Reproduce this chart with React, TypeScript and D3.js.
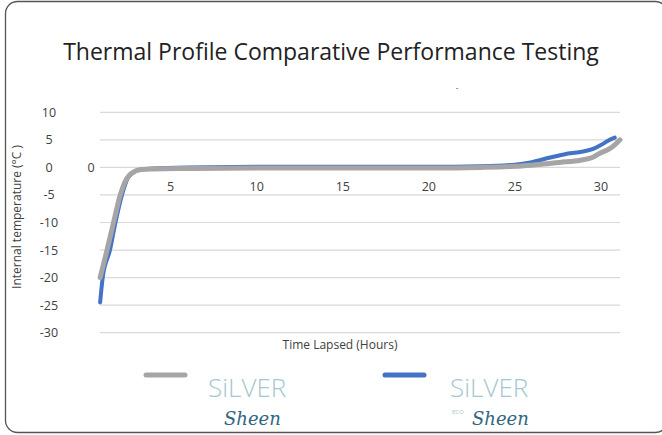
import * as d3 from 'd3';
import React, { useEffect, useRef } from 'react';

// Hours lapsed and internal temperature (°C)
const grayHours = [0.9, 1.3, 1.68, 2.07, 2.45, 2.8, 3.3, 4, 6, 10, 15, 20, 23, 25, 25.9, 27, 27.6, 28.8, 29.5, 29.96, 30.5, 30.8, 31.1];
const grayTemps = [-20, -15, -10, -5, -2, -0.9, -0.4, -0.3, -0.2, -0.1, -0.1, -0.1, 0, 0.2, 0.4, 0.7, 0.9, 1.3, 1.8, 2.6, 3.4, 4.1, 5.0];
const blueHours = [0.9, 1.05, 1.47, 1.79, 2.17, 2.5, 2.8, 3.2, 4, 6, 10, 15, 20, 23, 25, 25.9, 27.05, 27.9, 28.8, 29.5, 29.96, 30.5, 30.8];
const blueTemps = [-24.5, -20, -15, -10, -5, -2, -1, -0.4, -0.2, 0, 0.1, 0.1, 0.1, 0.2, 0.5, 0.9, 1.8, 2.4, 2.8, 3.3, 4.0, 5.0, 5.4];

const yTicks = [10, 5, 0, -5, -10, -15, -20, -25, -30];
const xTicks = [5, 10, 15, 20, 25, 30];

const W = 662;
const H = 435;
const font = "'Open Sans', 'Noto Sans', sans-serif";

export default function App() {
  const svgRef = useRef<SVGSVGElement>(null);

  useEffect(() => {
    if (!svgRef.current) return;
    const svg = d3.select(svgRef.current);
    svg.selectAll('*').remove();

    // frame
    svg.append('rect')
      .attr('x', 5.5).attr('y', 1.5)
      .attr('width', 662).attr('height', 431)
      .attr('rx', 12)
      .attr('fill', 'white')
      .attr('stroke', '#555')
      .attr('stroke-width', 1.3);

    svg.append('text')
      .attr('x', 331).attr('y', 60)
      .attr('text-anchor', 'middle')
      .style('font-family', font)
      .style('font-size', '23px')
      .style('fill', '#222')
      .text('Thermal Profile Comparative Performance Testing');

    svg.append('text')
      .attr('x', 457).attr('y', 90)
      .attr('text-anchor', 'middle')
      .style('font-family', font)
      .style('font-size', '8px')
      .style('fill', '#333')
      .text('-');

    const x = d3.scaleLinear().domain([5, 30]).range([170.7, 601]);
    const y = d3.scaleLinear().domain([-30, 10]).range([332.7, 112.3]);

    // gridlines
    svg.append('g')
      .selectAll('line')
      .data(yTicks)
      .join('line')
      .attr('x1', 100).attr('x2', 620)
      .attr('y1', d => y(d)).attr('y2', d => y(d))
      .attr('stroke', '#d9d9d9')
      .attr('stroke-width', 1.2);

    svg.append('g')
      .selectAll('text')
      .data(yTicks)
      .join('text')
      .attr('x', 49).attr('y', d => y(d) + 4.5)
      .attr('text-anchor', 'middle')
      .style('font-family', font)
      .style('font-size', '12.5px')
      .style('fill', '#404040')
      .text(d => d);

    svg.append('text')
      .attr('x', 91).attr('y', y(0) + 4.5)
      .attr('text-anchor', 'middle')
      .style('font-family', font)
      .style('font-size', '12.5px')
      .style('fill', '#404040')
      .text('0');

    svg.append('g')
      .selectAll('text')
      .data(xTicks)
      .join('text')
      .attr('x', d => x(d)).attr('y', 191)
      .attr('text-anchor', 'middle')
      .style('font-family', font)
      .style('font-size', '12.5px')
      .style('fill', '#404040')
      .text(d => d);

    svg.append('text')
      .attr('transform', `translate(21,217) rotate(-90)`)
      .attr('text-anchor', 'middle')
      .style('font-family', font)
      .style('font-size', '12px')
      .style('fill', '#404040')
      .text('Internal temperature (°C )');

    svg.append('text')
      .attr('x', 340).attr('y', 349)
      .attr('text-anchor', 'middle')
      .style('font-family', font)
      .style('font-size', '12px')
      .style('fill', '#404040')
      .text('Time Lapsed (Hours)');

    const line = d3.line<[number, number]>()
      .x(d => x(d[0]))
      .y(d => y(d[1]))
      .curve(d3.curveMonotoneX);

    svg.append('path')
      .attr('d', line(d3.zip(blueHours, blueTemps) as [number, number][]))
      .attr('fill', 'none')
      .attr('stroke', '#4472c4')
      .attr('stroke-width', 4)
      .attr('stroke-linecap', 'round');

    svg.append('path')
      .attr('d', line(d3.zip(grayHours, grayTemps) as [number, number][]))
      .attr('fill', 'none')
      .attr('stroke', '#a5a5a5')
      .attr('stroke-width', 5)
      .attr('stroke-linecap', 'round');

    // legend
    const legend = [
      { color: '#a5a5a5', x: 144, logoX: 208, eco: false },
      { color: '#4472c4', x: 383, logoX: 450, eco: true },
    ];
    legend.forEach(l => {
      svg.append('line')
        .attr('x1', l.x + 2).attr('x2', l.x + 41)
        .attr('y1', 375).attr('y2', 375)
        .attr('stroke', l.color)
        .attr('stroke-width', 5)
        .attr('stroke-linecap', 'round');
      svg.append('text')
        .attr('x', l.logoX).attr('y', 397)
        .style('font-family', font)
        .style('font-weight', 300)
        .style('font-size', '26px')
        .style('fill', '#a3c8d0')
        .text('SiLVER');
      svg.append('text')
        .attr('x', l.logoX + (l.eco ? 22 : 16)).attr('y', 425)
        .style('font-family', "'DejaVu Serif', serif")
        .style('font-style', 'italic')
        .style('font-size', '18px')
        .style('fill', '#2f6680')
        .text('Sheen');
      if (l.eco) {
        svg.append('text')
          .attr('x', l.logoX + 2).attr('y', 414)
          .style('font-family', font)
          .style('font-size', '6px')
          .style('fill', '#a3c8d0')
          .text('ECO');
      }
    });
  }, []);

  return (
    <svg
      ref={svgRef}
      width={W}
      height={H}
      style={{ position: 'absolute', left: 0, top: 0, background: 'white' }}
    />
  );
}
